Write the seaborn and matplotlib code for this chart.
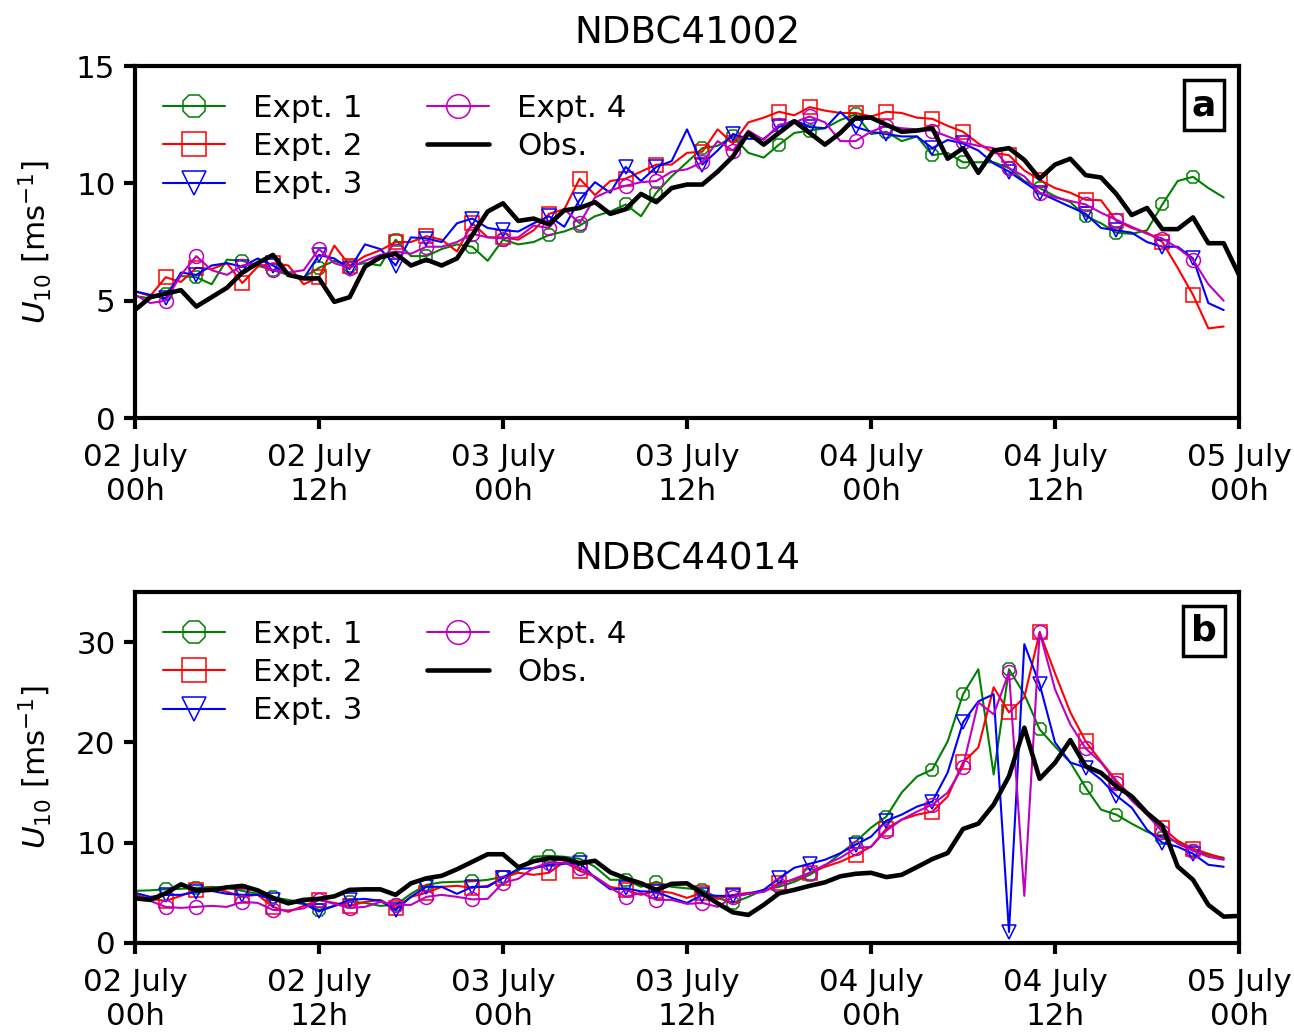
import numpy as np
import pandas as pd
import matplotlib
matplotlib.use("Agg")
import matplotlib.pyplot as plt
import seaborn as sns

# ---------------- data ----------------
hours_obs = np.arange(73)      # hourly observations 02 July 00h .. 05 July 00h
hours_model = np.arange(72)    # hourly model output

xtick_pos = [0, 12, 24, 36, 48, 60, 72]
xtick_labels = ["02 July\n00h", "02 July\n12h", "03 July\n00h", "03 July\n12h",
                "04 July\n00h", "04 July\n12h", "05 July\n00h"]

series_names = ["Expt. 1", "Expt. 2", "Expt. 3", "Expt. 4", "Obs."]

# Panel a : NDBC41002
obs_a = [4.6, 5.15, 5.3, 5.45, 4.75, 5.15, 5.55, 6.2, 6.6, 6.95, 6.1, 5.95, 5.95, 4.95, 5.15, 6.45,
         6.85, 7.0, 6.5, 6.75, 6.5, 6.8, 7.8, 8.8, 9.15,
         8.4, 8.5, 8.25, 8.85, 8.95, 9.2, 8.7, 8.9, 9.55, 9.2, 9.8, 9.95, 9.95, 10.5, 11.15, 12.15,
         11.65, 12.15, 12.65, 12.15, 11.65, 12.15, 12.8, 12.8,
         12.5, 12.2, 12.25, 12.35, 11.05, 11.5, 10.45, 11.4, 11.5, 11.0, 10.2, 10.8, 11.05, 10.35,
         10.25, 9.55, 8.65, 8.95, 8.05, 8.05, 8.55, 7.45, 7.45, 6.1]
expt1_a = [5.2, 5.1, 5.3, 6.05, 6.0, 5.7, 6.75, 6.7, 6.5, 6.3, 6.1, 6.0, 6.4, 6.7, 6.5, 6.6, 6.5,
           7.6, 6.9, 6.9, 7.2, 7.4, 7.3, 6.7, 7.6,
           7.4, 7.5, 7.8, 7.95, 8.2, 8.6, 8.8, 9.1, 8.6, 9.6, 10.3, 10.9, 11.5, 11.6, 12.0, 11.3,
           11.1, 11.65, 12.15, 12.25, 12.35, 12.7, 12.95, 12.1,
           12.2, 11.8, 12.0, 11.2, 11.3, 10.9, 10.9, 10.9, 10.65, 10.1, 9.8, 9.45, 9.2, 8.6, 8.3,
           7.9, 7.85, 8.0, 9.1, 10.1, 10.28, 9.8, 9.4]
expt2_a = [5.4, 5.2, 6.0, 5.8, 6.4, 6.35, 6.6, 5.75, 6.45, 6.6, 6.5, 5.7, 6.0, 7.35, 6.5, 6.9, 7.15,
           7.5, 7.5, 7.75, 7.6, 7.1, 8.3, 7.7, 7.7,
           7.6, 8.0, 8.7, 8.9, 10.2, 9.5, 10.1, 10.2, 10.5, 10.8, 10.8, 11.3, 11.35, 12.3, 11.7, 12.6,
           12.8, 13.05, 12.9, 13.25, 13.1, 13.0, 13.0, 12.85,
           13.05, 13.0, 12.8, 12.75, 12.45, 12.2, 11.7, 11.3, 11.2, 10.55, 10.15, 9.8, 9.6, 9.3,
           9.28, 8.4, 8.1, 7.9, 7.5, 6.4, 5.25, 3.82, 3.9]
expt3_a = [5.4, 5.25, 5.1, 6.2, 6.1, 6.5, 6.6, 6.45, 6.8, 6.5, 6.1, 5.95, 6.95, 6.8, 6.35, 7.4, 7.2,
           6.5, 7.7, 7.65, 7.5, 8.3, 8.5, 8.1, 8.0,
           7.95, 8.3, 8.6, 8.15, 9.3, 10.05, 9.6, 10.7, 10.1, 10.7, 10.95, 12.3, 10.8, 11.4, 12.1,
           11.9, 11.9, 12.4, 12.7, 12.4, 12.35, 13.05, 12.4, 12.2,
           12.1, 12.0, 12.0, 11.5, 11.85, 11.7, 11.4, 10.85, 10.5, 10.05, 9.6, 9.3, 9.0, 8.7, 8.1,
           8.0, 7.9, 7.5, 7.3, 7.3, 6.8, 4.9, 4.6]
expt4_a = [5.25, 4.9, 5.0, 6.1, 6.9, 6.3, 6.1, 6.5, 6.6, 6.3, 6.2, 6.3, 7.2, 6.6, 6.4, 6.7, 6.95,
           7.1, 7.0, 7.3, 7.3, 7.5, 7.85, 7.7, 7.65,
           7.7, 8.2, 8.1, 8.9, 8.3, 9.4, 9.7, 9.9, 10.05, 10.1, 10.5, 10.6, 10.9, 11.8, 11.4, 12.25,
           11.85, 12.5, 12.6, 12.85, 12.6, 11.8, 11.8, 12.2,
           12.45, 12.35, 12.3, 12.25, 12.0, 11.75, 11.6, 11.5, 10.65, 10.3, 9.6, 9.4, 9.25, 9.1,
           8.75, 8.45, 8.15, 7.85, 7.65, 7.25, 6.75, 5.7, 5.0]

# Panel b : NDBC44014
obs_b = [4.45, 4.3, 4.95, 5.85, 5.25, 5.3, 5.55, 5.7, 5.25, 4.5, 3.95, 4.3, 4.4, 4.65, 5.3, 5.35,
         5.35, 4.8, 5.95, 6.45, 6.7, 7.35, 8.1, 8.85, 8.85,
         7.55, 8.15, 8.45, 8.4, 7.95, 8.2, 7.05, 6.45, 5.95, 5.3, 5.9, 5.95, 4.95, 3.95, 3.05, 2.8,
         3.8, 4.95, 5.3, 5.7, 6.05, 6.65, 6.9, 7.0,
         6.57, 6.8, 7.57, 8.37, 8.97, 11.37, 11.9, 13.8, 16.63, 21.47, 16.37, 17.97, 20.23, 17.63,
         16.97, 15.63, 14.63, 12.97, 11.7, 7.63, 6.3, 3.8, 2.63, 2.7]
expt1_b = [5.2, 5.25, 5.35, 5.4, 5.5, 5.6, 5.5, 5.2, 4.9, 4.55, 4.3, 4.0, 3.3, 3.7, 4.1, 4.0, 3.7,
           3.8, 4.9, 5.8, 6.05, 6.1, 6.15, 6.3, 6.6,
           7.2, 8.6, 8.7, 8.6, 8.4, 7.6, 6.3, 6.3, 5.6, 6.1, 5.6, 5.45, 5.3, 4.5, 4.0, 4.6, 5.3,
           5.6, 6.1, 6.8, 7.7, 8.9, 10.1, 11.5,
           12.6, 15.0, 16.6, 17.3, 20.1, 24.8, 27.3, 16.8, 27.3, 24.8, 21.3, 19.6, 18.0, 15.5, 13.3,
           12.8, 11.9, 11.1, 10.5, 10.1, 9.2, 8.8, 8.5]
expt2_b = [4.8, 4.4, 4.2, 4.7, 5.3, 5.5, 5.1, 4.65, 4.8, 3.6, 3.1, 3.7, 4.3, 4.0, 3.7, 4.1, 4.3,
           3.5, 4.6, 5.0, 5.6, 5.7, 5.5, 5.7, 6.5,
           7.0, 6.8, 7.0, 8.1, 7.2, 6.6, 5.6, 5.3, 4.8, 5.2, 5.0, 4.5, 5.0, 4.4, 4.8, 5.0, 5.1, 6.0,
           6.3, 7.0, 7.6, 8.1, 8.8, 9.6,
           11.4, 12.3, 12.8, 13.1, 14.6, 18.0, 19.5, 25.5, 23.0, 24.5, 31.0, 26.9, 23.0, 20.1, 18.1,
           16.2, 14.6, 13.0, 11.5, 10.2, 9.4, 8.9, 8.4]
expt3_b = [5.0, 4.6, 4.8, 4.8, 5.1, 5.2, 4.9, 4.8, 4.8, 4.3, 4.1, 3.9, 3.15, 3.7, 4.3, 4.4, 4.2,
           3.3, 4.6, 5.6, 5.6, 4.9, 5.6, 5.6, 6.5,
           7.4, 7.45, 7.8, 7.9, 8.0, 6.5, 5.35, 5.45, 5.15, 5.1, 4.5, 4.0, 4.8, 4.7, 4.7, 4.9, 5.3,
           6.45, 7.5, 7.9, 8.3, 8.95, 9.8, 10.6,
           12.2, 12.8, 13.6, 14.1, 17.0, 22.0, 24.1, 24.8, 1.1, 29.8, 25.8, 20.0, 18.0, 17.5, 16.3,
           14.7, 13.5, 11.3, 10.0, 9.6, 8.9, 7.8, 7.6]
expt4_b = [4.65, 4.2, 3.6, 3.5, 3.6, 3.7, 3.6, 4.1, 4.0, 3.3, 3.25, 3.45, 4.3, 3.9, 3.5, 3.6, 4.1,
           3.8, 3.8, 4.6, 4.8, 4.6, 4.35, 4.4, 6.0,
           6.4, 7.5, 8.0, 8.0, 7.5, 6.6, 5.5, 4.6, 5.0, 4.3, 4.3, 3.9, 4.0, 3.6, 4.6, 4.9, 5.1, 5.8,
           6.4, 7.0, 7.8, 8.5, 9.45, 9.6,
           11.2, 12.3, 13.1, 13.8, 15.0, 17.6, 24.0, 22.8, 27.0, 4.7, 31.0, 25.3, 21.8, 19.4, 18.0,
           16.0, 14.2, 12.8, 11.1, 9.9, 9.2, 8.6, 8.3]

# ---------------- style ----------------
sns.set_style("ticks")
plt.rcParams.update({
    "font.family": ["DejaVu Sans"],
    "font.size": 22.3,
    "axes.linewidth": 3,
    "axes.edgecolor": "black",
    "axes.labelcolor": "black",
    "text.color": "black",
    "xtick.color": "black",
    "ytick.color": "black",
    "xtick.major.width": 3,
    "ytick.major.width": 3,
    "xtick.major.size": 8,
    "ytick.major.size": 8,
    "xtick.direction": "out",
    "ytick.direction": "out",
    "axes.titlesize": 26.8,
    "mathtext.default": "regular",
})

colors = ["#008000", "#ff0000", "#0000ff", "#bf00bf", "black"]
markers = ["8", "s", "v", "o"]
mark_idx = [2, 4, 7, 9, 12, 14, 17, 19, 22, 24, 27, 29, 32, 34, 37, 39, 42, 44, 47, 49,
            52, 54, 57, 59, 62, 64, 67, 69]

fig = plt.figure(figsize=(12.94, 10.35), dpi=100)
ax_a = fig.add_axes([0.1043, 0.5961, 0.8532, 0.3401])
ax_b = fig.add_axes([0.1043, 0.0889, 0.8532, 0.3391])

panels = [
    (ax_a, "NDBC41002", "a", [expt1_a, expt2_a, expt3_a, expt4_a], obs_a, (0, 15), [0, 5, 10, 15]),
    (ax_b, "NDBC44014", "b", [expt1_b, expt2_b, expt3_b, expt4_b], obs_b, (0, 35), [0, 10, 20, 30]),
]

for ax, title, tag, models, obs, ylim, yticks in panels:
    for vals, name, col, mk in zip(models, series_names[:4], colors[:4], markers):
        sns.lineplot(x=hours_model, y=vals, ax=ax, color=col, lw=1.5, label=name,
                     marker=mk, markevery=mark_idx, markersize=10,
                     markerfacecolor="none", markeredgecolor=col, markeredgewidth=1.1)
    sns.lineplot(x=hours_obs, y=obs, ax=ax, color="black", lw=3.3, label=series_names[4])

    ax.set_xlim(0, 72)
    ax.set_ylim(*ylim)
    ax.set_yticks(yticks)
    ax.set_xticks(xtick_pos)
    ax.set_xticklabels(xtick_labels, ha="center", multialignment="center")
    ax.set_title(title, pad=16)
    ax.set_ylabel(r"$\mathit{U}_{10}$ [ms$^{-1}$]", labelpad=16)
    ax.set_xlabel("")
    for s in ax.spines.values():
        s.set_visible(True)
        s.set_linewidth(3)
        s.set_edgecolor("black")
    ax.tick_params(axis="x", pad=10)
    ax.tick_params(axis="y", pad=6)

    leg = ax.legend(ncol=2, loc="upper left", frameon=False, markerscale=1.7,
                    handlelength=2.0, handletextpad=0.9, columnspacing=2.1,
                    labelspacing=0.3)
    ax.text(0.968, 0.889, tag, transform=ax.transAxes, ha="center", va="center",
            fontweight="bold", fontsize=26,
            bbox=dict(boxstyle="square,pad=0.22", facecolor="white", edgecolor="black", lw=2.5))

fig.savefig("out.png", dpi=100)
